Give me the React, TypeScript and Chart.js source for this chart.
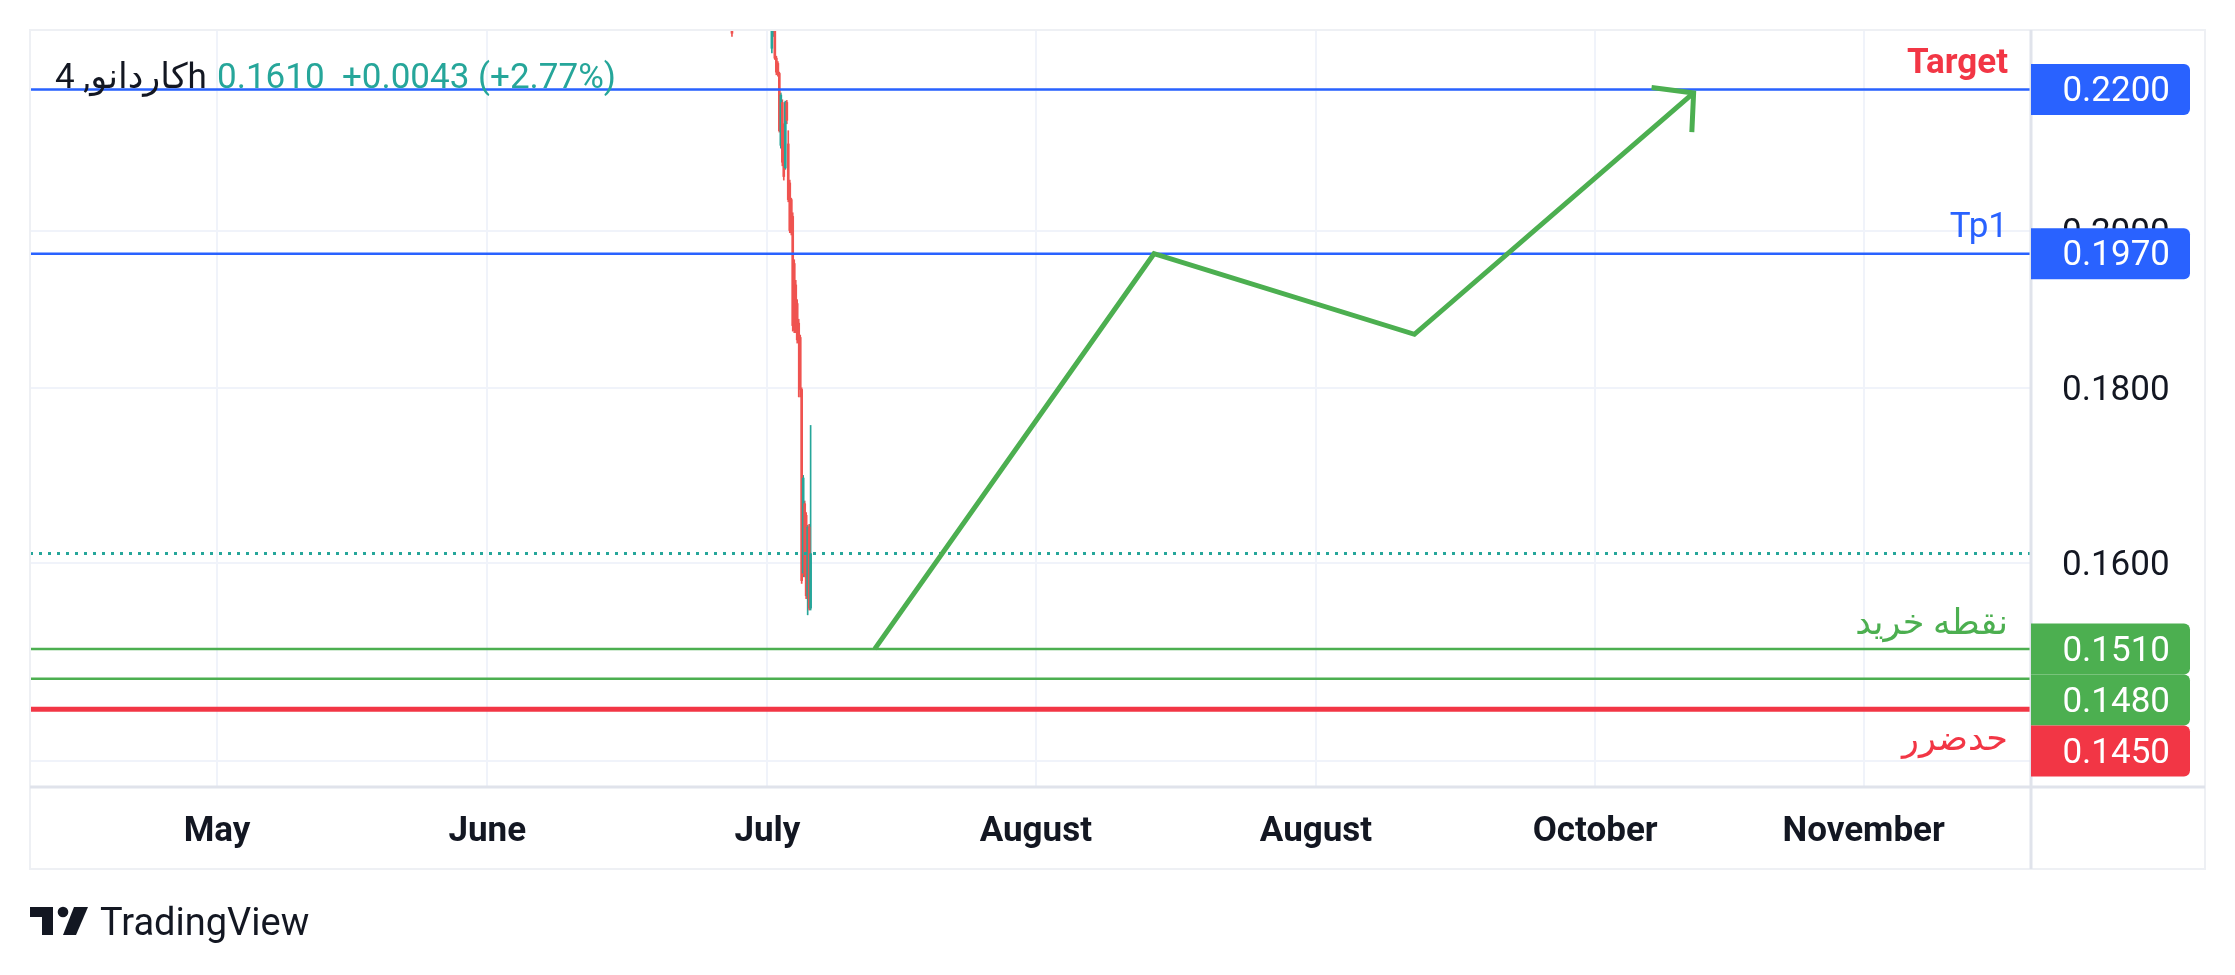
import React, { useEffect, useRef } from 'react';
import { Chart, registerables } from 'chart.js';

Chart.register(...registerables);

// ---- time axis (days from 1 May) ----
const xTickDays = [0, 30.2, 61.5, 91.5, 122.8, 154.0, 184.0];
const xTickLabels = ['May', 'June', 'July', 'August', 'August', 'October', 'November'];
const xMin = -20.9;
const xMax = 202.7;

// ---- price axis ----
const yTickValues = [0.14, 0.16, 0.18, 0.2, 0.22];
const yMin = 0.1376;
const yMax = 0.229;

// ---- 4h candles ----
const candleTime = [57.54, 62.0, 62.17, 62.33, 62.5, 62.67, 62.83, 63.0, 63.17, 63.33, 63.5, 63.67, 63.83, 64.0, 64.17, 64.33, 64.5, 64.67, 64.83, 65.0, 65.17, 65.33, 65.5, 65.67, 65.83, 66.0, 66.17, 66.33];
const candleOpen = [0.232, 0.2262, 0.229, 0.2298, 0.2247, 0.2239, 0.2224, 0.2119, 0.2181, 0.2145, 0.2087, 0.2181, 0.2121, 0.2066, 0.2043, 0.202, 0.1957, 0.1929, 0.1905, 0.188, 0.1862, 0.1798, 0.1589, 0.1665, 0.1652, 0.1565, 0.1639, 0.1552];
const candleHigh = [0.233, 0.232, 0.231, 0.2305, 0.225, 0.2242, 0.2226, 0.2195, 0.2185, 0.215, 0.2183, 0.2184, 0.214, 0.207, 0.2045, 0.2025, 0.1962, 0.1935, 0.191, 0.1885, 0.1865, 0.18, 0.1697, 0.1668, 0.1655, 0.1641, 0.1642, 0.1755];
const candleLow = [0.228, 0.2255, 0.228, 0.2245, 0.2222, 0.222, 0.2138, 0.2115, 0.209, 0.207, 0.2085, 0.215, 0.204, 0.1998, 0.1995, 0.187, 0.1868, 0.1868, 0.1855, 0.1789, 0.1789, 0.1578, 0.1585, 0.1585, 0.1562, 0.1545, 0.155, 0.155];
const candleClose = [0.2285, 0.23, 0.2298, 0.2247, 0.2226, 0.2224, 0.214, 0.2192, 0.2095, 0.2075, 0.2181, 0.2155, 0.2043, 0.2001, 0.1998, 0.1877, 0.1871, 0.1871, 0.1859, 0.1859, 0.1798, 0.1581, 0.1694, 0.1587, 0.1565, 0.1639, 0.1552, 0.161];

const lastPrice = 0.161;
const headerName = 'کاردانو, 4h';
const headerValues = '0.1610  +0.0043 (+2.77%)';

// ---- horizontal levels ----
const levelValues = [0.22, 0.197, 0.151, 0.148, 0.145];
const levelNames = ['Target', 'Tp1', 'نقطه خرید', '', 'حدضرر'];

// ---- drawn projection path + arrow head ----
const pathTime = [73.5, 104.7, 133.8, 165.0];
const pathPrice = [0.151, 0.197, 0.1866, 0.2195];
const arrowTime = [160.3, 165.0, 164.8];
const arrowPrice = [0.2203, 0.2195, 0.2138];

// ---- styles ----
const UP = '#26a69a';
const DOWN = '#ef5350';
const BLUE = '#2962ff';
const GREEN = '#4caf50';
const RED = '#f23645';
const TEXT = '#131722';
const FONT = 'Roboto, "DejaVu Sans", sans-serif';
const levelColors = [BLUE, BLUE, GREEN, GREEN, RED];
const levelWidths = [2.5, 2.5, 2.5, 2.5, 5];
const labelColors = [RED, BLUE, GREEN, GREEN, RED];
const labelWeights = ['bold', 'normal', 'normal', 'normal', 'normal'];
const labelOffsets = [-17, -17, -15, 0, 41];
const Y_AXIS_W = 174;
const X_AXIS_H = 82;

const decor = {
  id: 'decor',
  beforeDraw(chart: any) {
    const c = chart.ctx;
    c.save();
    c.fillStyle = '#ffffff';
    c.fillRect(0, 0, chart.width, chart.height);
    c.restore();
  },
  afterDraw(chart: any) {
    const ctx = chart.ctx as CanvasRenderingContext2D;
    const a = chart.chartArea;
    const y = chart.scales.y;
    const frameR = a.right + Y_AXIS_W;
    const frameB = a.bottom + X_AXIS_H;
    ctx.save();
    // frame
    ctx.strokeStyle = '#eef0f4';
    ctx.lineWidth = 2;
    ctx.strokeRect(a.left, a.top, frameR - a.left, frameB - a.top);
    // separators
    ctx.strokeStyle = '#e0e3eb';
    ctx.lineWidth = 3;
    ctx.beginPath();
    ctx.moveTo(a.right, a.top);
    ctx.lineTo(a.right, frameB);
    ctx.moveTo(a.left, a.bottom);
    ctx.lineTo(frameR, a.bottom);
    ctx.stroke();

    // line labels
    ctx.textAlign = 'right';
    ctx.textBaseline = 'alphabetic';
    levelValues.forEach((v, i) => {
      if (!levelNames[i]) return;
      const py = y.getPixelForValue(v);
      ctx.font = `${labelWeights[i]} 35px ${FONT}`;
      ctx.fillStyle = labelColors[i];
      ctx.fillText(levelNames[i], a.right - 23, py + labelOffsets[i]);
    });

    // price boxes (stacked to avoid overlap)
    const boxH = 51;
    let prevBottom = -Infinity;
    levelValues.forEach((v, i) => {
      const py = y.getPixelForValue(v);
      const top = Math.max(py - boxH / 2, prevBottom);
      prevBottom = top + boxH;
      ctx.fillStyle = levelColors[i];
      ctx.beginPath();
      (ctx as any).roundRect(a.right, top, 159, boxH, [0, 6, 6, 0]);
      ctx.fill();
      ctx.fillStyle = '#ffffff';
      ctx.font = `35px ${FONT}`;
      ctx.textAlign = 'right';
      ctx.textBaseline = 'middle';
      ctx.fillText(v.toFixed(4), a.right + 139, top + boxH / 2 + 3);
    });

    // header
    ctx.textAlign = 'left';
    ctx.textBaseline = 'alphabetic';
    ctx.font = `35px ${FONT}`;
    ctx.fillStyle = TEXT;
    const hx = a.left + 25;
    ctx.fillText(headerName, hx, a.top + 58);
    const nw = ctx.measureText(headerName).width;
    ctx.fillStyle = UP;
    ctx.fillText(headerValues, Math.max(217, hx + nw + 8), a.top + 58);

    // TradingView logo
    ctx.fillStyle = TEXT;
    ctx.beginPath();
    ctx.moveTo(30, 907); ctx.lineTo(53, 907); ctx.lineTo(53, 935); ctx.lineTo(42, 935); ctx.lineTo(42, 917); ctx.lineTo(30, 917);
    ctx.closePath();
    ctx.fill();
    ctx.beginPath();
    ctx.arc(63, 912, 5.3, 0, Math.PI * 2);
    ctx.fill();
    ctx.beginPath();
    ctx.moveTo(74, 907); ctx.lineTo(88, 907); ctx.lineTo(76, 935); ctx.lineTo(63, 935);
    ctx.closePath();
    ctx.fill();
    ctx.font = `38px ${FONT}`;
    ctx.fillText('TradingView', 100, 935);
    ctx.restore();
  },
};

export default function App() {
  const ref = useRef<HTMLCanvasElement>(null);
  useEffect(() => {
    const canvas = ref.current!;
    Chart.defaults.font.family = FONT;
    const candleColor = (c: any) => (candleClose[c.dataIndex] >= candleOpen[c.dataIndex] ? UP : DOWN);
    const hline = (v: number, color: string, width: number, dash: number[] = []) => ({
      type: 'line',
      data: [{ x: xMin, y: v }, { x: xMax, y: v }],
      borderColor: color,
      borderWidth: width,
      borderDash: dash,
      borderCapStyle: 'butt',
      pointRadius: 0,
      order: 5,
    });
    const chart = new Chart(canvas, {
      type: 'bar',
      data: {
        datasets: [
          {
            type: 'bar',
            data: candleTime.map((t, i) => ({ x: t, y: [candleLow[i], candleHigh[i]] })),
            backgroundColor: candleColor,
            barThickness: 1,
            grouped: false,
            order: 10,
          } as any,
          {
            type: 'bar',
            data: candleTime.map((t, i) => ({ x: t, y: [candleOpen[i], candleClose[i]] })),
            backgroundColor: candleColor,
            barThickness: 2,
            grouped: false,
            order: 9,
          } as any,
          hline(lastPrice, UP, 3, [3, 6]) as any,
          ...levelValues.map((v, i) => hline(v, levelColors[i], levelWidths[i]) as any),
          {
            type: 'line',
            data: pathTime.map((t, i) => ({ x: t, y: pathPrice[i] })),
            borderColor: GREEN,
            borderWidth: 5,
            pointRadius: 0,
            tension: 0,
            borderJoinStyle: 'miter',
            order: 1,
          } as any,
          {
            type: 'line',
            data: arrowTime.map((t, i) => ({ x: t, y: arrowPrice[i] })),
            borderColor: GREEN,
            borderWidth: 5,
            pointRadius: 0,
            tension: 0,
            borderJoinStyle: 'miter',
            borderCapStyle: 'butt',
            order: 1,
          } as any,
        ],
      },
      options: {
        animation: false,
        responsive: false,
        devicePixelRatio: 1,
        events: [],
        layout: { padding: { left: 30, right: 30, top: 30, bottom: 106 } },
        plugins: { legend: { display: false }, tooltip: { enabled: false } },
        scales: {
          x: {
            type: 'linear',
            min: xMin,
            max: xMax,
            offset: false,
            afterBuildTicks: (s: any) => {
              s.ticks = xTickDays.map((v) => ({ value: v }));
            },
            afterFit: (s: any) => {
              s.height = X_AXIS_H;
              s.paddingLeft = 0;
              s.paddingRight = 0;
            },
            ticks: {
              autoSkip: false,
              maxRotation: 0,
              padding: 24,
              color: TEXT,
              font: { size: 35, weight: 'bold' },
              callback: (_v: any, i: number) => xTickLabels[i],
            },
            grid: { color: '#f0f3fa', lineWidth: 2, drawTicks: false, offset: false },
            border: { display: false },
          },
          y: {
            type: 'logarithmic',
            position: 'right',
            min: yMin,
            max: yMax,
            afterBuildTicks: (s: any) => {
              s.ticks = yTickValues.map((v) => ({ value: v }));
            },
            afterFit: (s: any) => {
              s.width = Y_AXIS_W;
              s.paddingTop = 0;
              s.paddingBottom = 0;
            },
            ticks: {
              padding: 31,
              labelOffset: 3,
              color: TEXT,
              font: { size: 35 },
              callback: (v: any) => Number(v).toFixed(4),
            },
            grid: { color: '#f0f3fa', lineWidth: 2, drawTicks: false },
            border: { display: false },
          },
        },
      } as any,
      plugins: [decor],
    });
    return () => chart.destroy();
  }, []);
  return (
    <div style={{ position: 'absolute', left: 0, top: 0, width: 2235, height: 975, background: '#fff' }}>
      <canvas ref={ref} width={2235} height={975} style={{ width: 2235, height: 975, display: 'block' }} />
    </div>
  );
}
